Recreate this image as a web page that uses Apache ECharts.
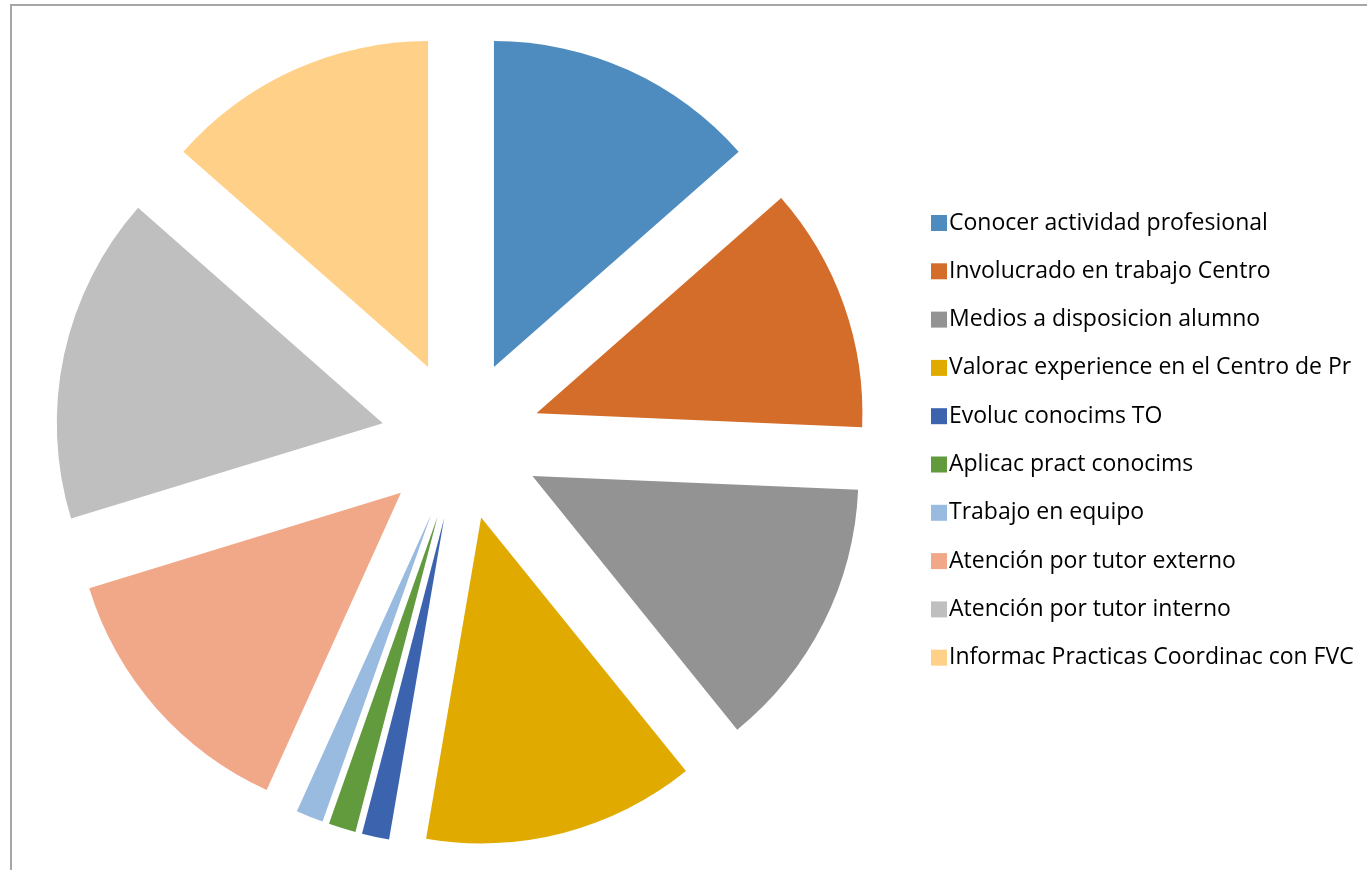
<!DOCTYPE html>
<html>
<head>
<meta charset="utf-8">
<script src="https://cdn.jsdelivr.net/npm/echarts@6/dist/echarts.min.js"></script>
<style>
  html, body { margin: 0; padding: 0; background: #fff; overflow: hidden; }
  #frame { position: absolute; left: 10px; top: 4px; width: 1400px; height: 900px;
    border-left: 2px solid #a6a6a6; border-top: 2px solid #a6a6a6; box-sizing: border-box; }
  #chart { position: absolute; left: 0; top: 0; width: 1367px; height: 870px; }
</style>
</head>
<body>
<div id="frame"></div>
<div id="chart"></div>
<script>
// exploded pie, every slice pulled out the same distance
const categories = [
  'Conocer actividad profesional',
  'Involucrado en trabajo Centro',
  'Medios a disposicion alumno',
  'Valorac experience en el Centro de Pr',
  'Evoluc conocims TO',
  'Aplicac pract conocims',
  'Trabajo en equipo',
  'Atención por tutor externo',
  'Atención por tutor interno',
  'Informac Practicas Coordinac con FVC'
];
const values = [10, 9, 10, 10, 1, 1, 1, 10, 12, 10];
const colors = ['#4e8bbe', '#d36d29', '#939393', '#e1aa00', '#3c64ae',
  '#629a3e', '#9abbe0', '#f0a889', '#bfbfbf', '#ffd188'];

const chart = echarts.init(document.getElementById('chart'));
chart.setOption({
  animation: false,
  color: colors,
  legend: {
    orient: 'vertical',
    left: 926,
    top: 202,
    itemWidth: 16,
    itemHeight: 16,
    itemGap: 16.3,
    icon: 'rect',
    textStyle: { fontFamily: 'Open Sans', fontSize: 23, lineHeight: 32, color: '#000', padding: [0, 0, 0, -3] },
    data: categories
  },
  series: [{
    type: 'pie',
    center: [461, 440],
    radius: [0, 326],
    startAngle: 90,
    clockwise: true,
    selectedMode: 'multiple',
    selectedOffset: 80,
    label: { show: false },
    labelLine: { show: false },
    emphasis: { disabled: true },
    itemStyle: { borderWidth: 0 },
    data: categories.map((name, i) => ({ name, value: values[i], selected: true }))
  }]
});
</script>
</body>
</html>
